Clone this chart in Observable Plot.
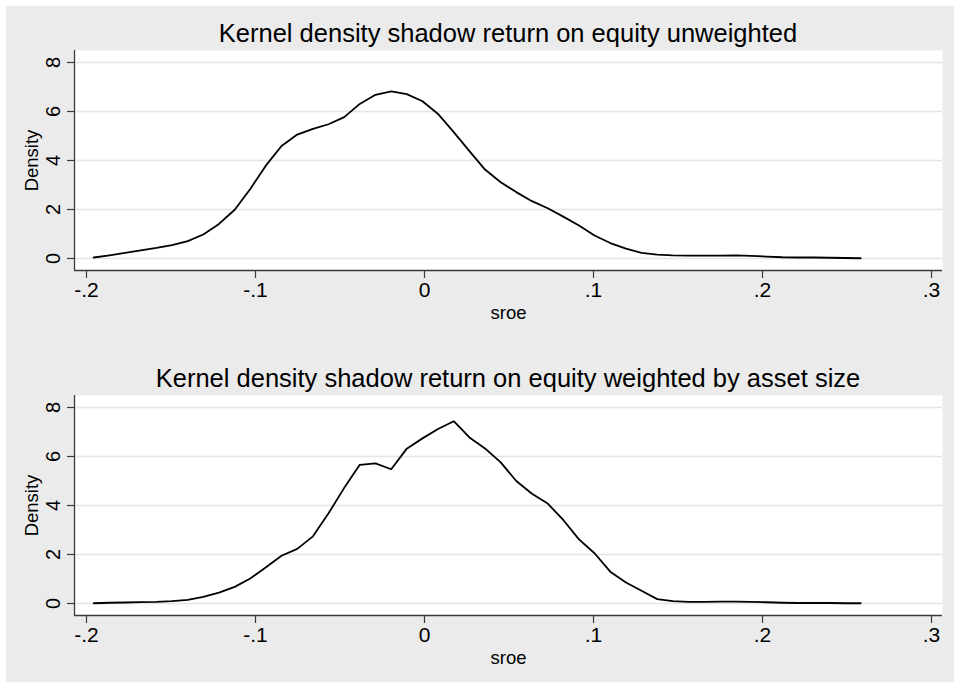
<!DOCTYPE html>
<html><head><meta charset="utf-8">
<script src="https://cdn.jsdelivr.net/npm/d3@7"></script>
<script src="https://cdn.jsdelivr.net/npm/@observablehq/plot@0.6"></script>
<style>
html,body{margin:0;padding:0}
body{background:#fff;width:954px;height:682px;overflow:hidden;position:relative;font-family:"Liberation Sans",Helvetica,Arial,sans-serif}
#bg{position:absolute;left:6px;top:6px;width:948px;height:676px;background:#ebebeb}
.panel{position:absolute;left:0}
.title{position:absolute;left:74px;width:868px;text-align:center;font-size:25.5px;color:#000;line-height:26px;white-space:nowrap}
</style></head><body>
<div id="bg"></div>
<div class="title" id="t1" style="top:20px"></div>
<div class="panel" id="p1" style="top:0px"></div>
<div class="title" id="t2" style="top:365px"></div>
<div class="panel" id="p2" style="top:345px"></div>
<script>
const titles = [
  "Kernel density shadow return on equity unweighted",
  "Kernel density shadow return on equity weighted by asset size"
];
const xLabel = "sroe";
const yLabel = "Density";
const xTicks = [-0.2, -0.1, 0, 0.1, 0.2, 0.3];
const xTickLabels = ["-.2", "-.1", "0", ".1", ".2", ".3"];
const yTicks = [0, 2, 4, 6, 8];
const yTickLabels = ["0", "2", "4", "6", "8"];

// kernel density evaluation points (sroe)
const sroe = [
  -0.1957, -0.1864, -0.1772, -0.1679, -0.1586, -0.1494, -0.1401, -0.1309, -0.1216, -0.1123,
  -0.1031, -0.0938, -0.0846, -0.0753, -0.0660, -0.0568, -0.0475, -0.0383, -0.0290, -0.0197,
  -0.0105, -0.0012, 0.0080, 0.0173, 0.0266, 0.0358, 0.0451, 0.0543, 0.0636, 0.0729,
  0.0821, 0.0914, 0.1006, 0.1099, 0.1192, 0.1284, 0.1377, 0.1469, 0.1562, 0.1655,
  0.1747, 0.1840, 0.1932, 0.2025, 0.2118, 0.2210, 0.2303, 0.2395, 0.2488, 0.2581
];
const densityUnweighted = [
  0.04, 0.13, 0.23, 0.33, 0.43, 0.55, 0.71, 0.98, 1.41, 1.99,
  2.84, 3.80, 4.59, 5.06, 5.29, 5.48, 5.77, 6.31, 6.68, 6.82,
  6.71, 6.42, 5.90, 5.16, 4.38, 3.63, 3.11, 2.71, 2.34, 2.05,
  1.71, 1.35, 0.94, 0.63, 0.40, 0.23, 0.16, 0.13, 0.12, 0.12,
  0.12, 0.13, 0.11, 0.08, 0.05, 0.04, 0.04, 0.03, 0.02, 0.01
];
const densityWeighted = [
  0.01, 0.03, 0.04, 0.06, 0.07, 0.10, 0.15, 0.27, 0.44, 0.68,
  1.02, 1.48, 1.95, 2.23, 2.74, 3.68, 4.72, 5.66, 5.72, 5.48,
  6.32, 6.74, 7.12, 7.44, 6.78, 6.33, 5.76, 5.00, 4.48, 4.08,
  3.41, 2.62, 2.05, 1.30, 0.86, 0.52, 0.18, 0.10, 0.07, 0.07,
  0.08, 0.08, 0.07, 0.05, 0.03, 0.02, 0.02, 0.02, 0.01, 0.01
];

// scale extents (Stata-style padding beyond the outer ticks)
const xDomain = [-0.2071, 0.3065];
const yDomain = [-0.49, 8.49];

const FONT = '"Liberation Sans", Helvetica, Arial, sans-serif';
const AXIS = "#3a3a3a";

function panel(values, height, marginBottom) {
  const data = sroe.map((x, i) => ({x, y: values[i]}));
  return Plot.plot({
    width: 954,
    height,
    marginLeft: 74,
    marginRight: 12,
    marginTop: 50,
    marginBottom,
    style: {background: "transparent", fontFamily: FONT, fontSize: "19px", color: "#000", overflow: "visible"},
    x: {domain: xDomain},
    y: {domain: yDomain},
    marks: [
      Plot.frame({fill: "white", stroke: null}),
      Plot.gridY(yTicks, {stroke: "#e4e4e4", strokeOpacity: 1, strokeWidth: 1.6}),
      Plot.ruleY([yDomain[0]], {stroke: AXIS, strokeWidth: 1.3}),
      Plot.ruleX([xDomain[0]], {stroke: AXIS, strokeWidth: 1.3}),
      Plot.axisX(xTicks, {tickSize: 8, stroke: AXIS, strokeWidth: 1.2, tickFormat: () => "", label: null}),
      Plot.axisY(yTicks, {tickSize: 7, stroke: AXIS, strokeWidth: 1.2, tickFormat: () => "", label: null}),
      Plot.text(xTicks, {
        x: d => d, frameAnchor: "bottom", dy: 20, text: d => xTickLabels[xTicks.indexOf(d)],
        fontSize: 21, fill: "#000", textAnchor: "middle", lineAnchor: "middle"
      }),
      Plot.text(yTicks, {
        y: d => d, frameAnchor: "left", dx: -21, text: d => yTickLabels[yTicks.indexOf(d)],
        rotate: -90, fontSize: 20, fill: "#000", textAnchor: "middle", lineAnchor: "middle"
      }),
      Plot.text([xLabel], {frameAnchor: "bottom", dy: 43, text: d => d, fontSize: 18.5, fill: "#000", textAnchor: "middle", lineAnchor: "middle"}),
      Plot.text([yLabel], {frameAnchor: "left", dx: -42, rotate: -90, text: d => d, fontSize: 18.5, fill: "#000", textAnchor: "middle", lineAnchor: "middle"}),
      Plot.line(data, {x: "x", y: "y", stroke: "#000", strokeWidth: 1.8})
    ]
  });
}

document.getElementById("t1").textContent = titles[0];
document.getElementById("t2").textContent = titles[1];
document.getElementById("p1").appendChild(panel(densityUnweighted, 340, 70));
document.getElementById("p2").appendChild(panel(densityWeighted, 337, 67));
</script>
</body></html>
